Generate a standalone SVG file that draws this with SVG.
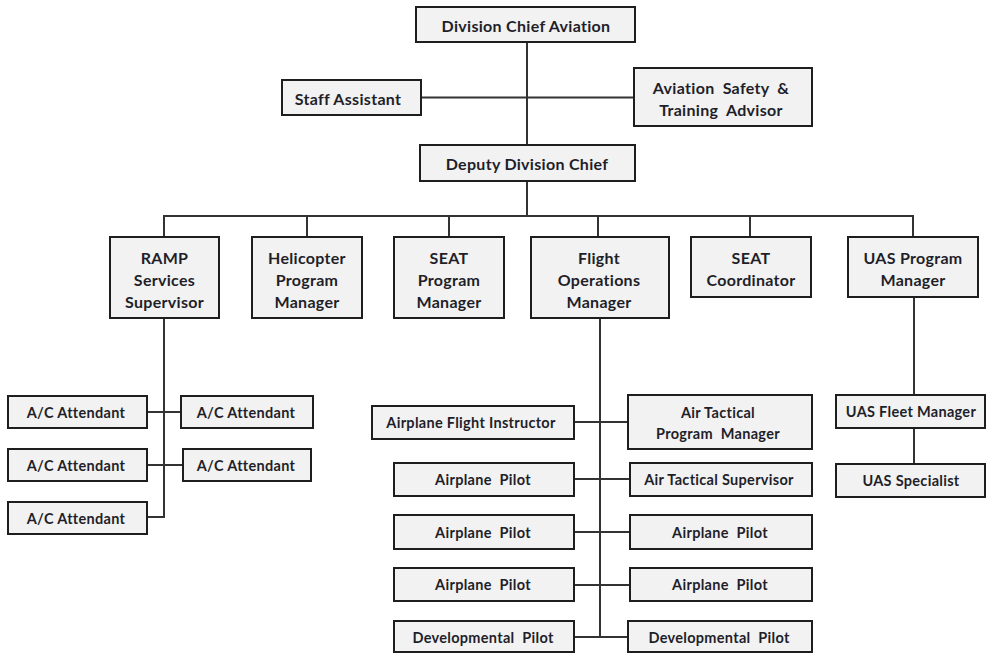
<svg xmlns="http://www.w3.org/2000/svg" width="987" height="654" viewBox="0 0 987 654">
<style>
.b{fill:#f2f2f2;stroke:#1e1e1e;stroke-width:2}
.t{font-family:Lato,"Open Sans","Liberation Sans",sans-serif;font-weight:bold;font-size:16px;letter-spacing:0.3px;fill:#1f1f2a;text-anchor:middle;dominant-baseline:central}
.s{font-size:14.5px;letter-spacing:0.3px}
.w{word-spacing:4px}
#connectors line{stroke:#333;stroke-width:2}
</style>
<rect width="987" height="654" fill="#fff"/>
<g id="connectors">
<line x1="527" y1="42" x2="527" y2="145"/>
<line x1="421" y1="97.5" x2="634" y2="97.5"/>
<line x1="527" y1="181" x2="527" y2="216"/>
<line x1="163" y1="216" x2="914" y2="216"/>
<line x1="164" y1="216" x2="164" y2="237"/>
<line x1="307" y1="216" x2="307" y2="237"/>
<line x1="449" y1="216" x2="449" y2="237"/>
<line x1="598" y1="216" x2="598" y2="237"/>
<line x1="750" y1="216" x2="750" y2="237"/>
<line x1="913" y1="216" x2="913" y2="237"/>
<line x1="164" y1="318" x2="164" y2="518"/>
<line x1="147" y1="412" x2="181" y2="412"/>
<line x1="147" y1="465" x2="183" y2="465"/>
<line x1="147" y1="517" x2="165" y2="517"/>
<line x1="600" y1="318" x2="600" y2="638"/>
<line x1="574" y1="422" x2="628" y2="422"/>
<line x1="574" y1="479" x2="630" y2="479"/>
<line x1="574" y1="532" x2="630" y2="532"/>
<line x1="574" y1="585" x2="630" y2="585"/>
<line x1="574" y1="637" x2="628" y2="637"/>
<line x1="914" y1="297" x2="914" y2="395"/>
<line x1="914" y1="428" x2="914" y2="464"/>
</g>
<g id="division-chief"><rect class="b" x="416" y="7" width="219" height="35"/><text class="t" x="526" y="25">Division Chief Aviation</text></g>
<g id="staff-assistant"><rect class="b" x="282" y="80" width="139" height="35"/><text class="t" x="348" y="98">Staff Assistant</text></g>
<g id="aviation-safety"><rect class="b" x="634" y="68" width="178" height="58"/><text class="t w" x="721" y="87">Aviation Safety &amp;</text><text class="t w" x="721" y="109">Training Advisor</text></g>
<g id="deputy"><rect class="b" x="420" y="145" width="215" height="36"/><text class="t" x="527" y="163">Deputy Division Chief</text></g>
<g id="ramp"><rect class="b" x="110" y="237" width="109" height="81"/><text class="t" x="164.5" y="257">RAMP</text><text class="t" x="164.5" y="279">Services</text><text class="t" x="164.5" y="301">Supervisor</text></g>
<g id="helicopter"><rect class="b" x="252" y="237" width="110" height="81"/><text class="t" x="307" y="257">Helicopter</text><text class="t" x="307" y="279">Program</text><text class="t" x="307" y="301">Manager</text></g>
<g id="seat-program"><rect class="b" x="394" y="237" width="110" height="81"/><text class="t" x="449" y="257">SEAT</text><text class="t" x="449" y="279">Program</text><text class="t" x="449" y="301">Manager</text></g>
<g id="flight-ops"><rect class="b" x="531" y="237" width="138" height="81"/><text class="t" x="599" y="257">Flight</text><text class="t" x="599" y="279">Operations</text><text class="t" x="599" y="301">Manager</text></g>
<g id="seat-coord"><rect class="b" x="691" y="237" width="120" height="60"/><text class="t" x="751" y="257">SEAT</text><text class="t" x="751" y="279">Coordinator</text></g>
<g id="uas-program"><rect class="b" x="848" y="237" width="130" height="60"/><text class="t" x="913" y="257">UAS Program</text><text class="t" x="913" y="279">Manager</text></g>
<g id="ac1"><rect class="b" x="8" y="396" width="139" height="32"/><text class="t s" x="76" y="412">A/C Attendant</text></g>
<g id="ac2"><rect class="b" x="181" y="396" width="132" height="32"/><text class="t s" x="246" y="412">A/C Attendant</text></g>
<g id="ac3"><rect class="b" x="8" y="449" width="139" height="32"/><text class="t s" x="76" y="465">A/C Attendant</text></g>
<g id="ac4"><rect class="b" x="183" y="449" width="128" height="32"/><text class="t s" x="246" y="465">A/C Attendant</text></g>
<g id="ac5"><rect class="b" x="8" y="502" width="139" height="32"/><text class="t s" x="76" y="518">A/C Attendant</text></g>
<g id="flight-instructor"><rect class="b" x="372" y="406" width="202" height="33"/><text class="t s" x="471" y="422.5">Airplane Flight Instructor</text></g>
<g id="air-tactical-pm"><rect class="b" x="628" y="395" width="184" height="54"/><text class="t s" x="718" y="412">Air Tactical</text><text class="t s w" x="718" y="433">Program Manager</text></g>
<g id="pilot1"><rect class="b" x="394" y="463" width="180" height="33"/><text class="t s w" x="483" y="479.5">Airplane Pilot</text></g>
<g id="air-tactical-sup"><rect class="b" x="630" y="463" width="182" height="33"/><text class="t s" x="719" y="479.5">Air Tactical Supervisor</text></g>
<g id="pilot2"><rect class="b" x="394" y="515" width="180" height="34"/><text class="t s w" x="483" y="532">Airplane Pilot</text></g>
<g id="pilot3"><rect class="b" x="630" y="515" width="182" height="34"/><text class="t s w" x="720" y="532">Airplane Pilot</text></g>
<g id="pilot4"><rect class="b" x="394" y="568" width="180" height="33"/><text class="t s w" x="483" y="584.5">Airplane Pilot</text></g>
<g id="pilot5"><rect class="b" x="630" y="568" width="182" height="33"/><text class="t s w" x="720" y="584.5">Airplane Pilot</text></g>
<g id="dev-pilot1"><rect class="b" x="394" y="621" width="180" height="31"/><text class="t s w" x="483" y="637">Developmental Pilot</text></g>
<g id="dev-pilot2"><rect class="b" x="628" y="621" width="184" height="31"/><text class="t s w" x="719" y="637">Developmental Pilot</text></g>
<g id="uas-fleet"><rect class="b" x="836" y="395" width="149" height="33"/><text class="t s" x="911" y="411.5">UAS Fleet Manager</text></g>
<g id="uas-specialist"><rect class="b" x="836" y="464" width="149" height="33"/><text class="t s" x="911" y="480.5">UAS Specialist</text></g>
</svg>
